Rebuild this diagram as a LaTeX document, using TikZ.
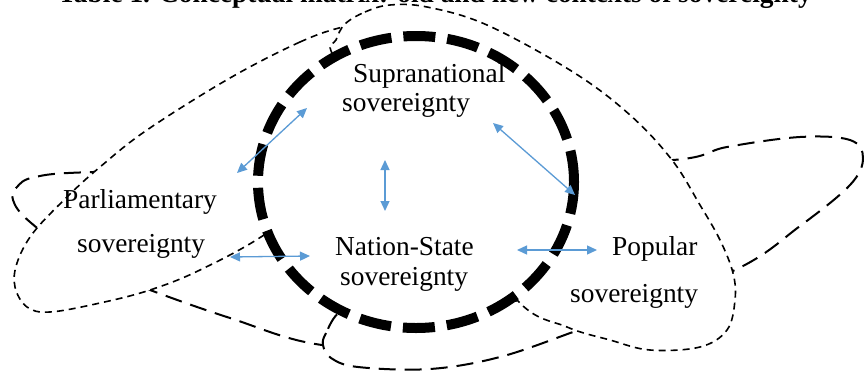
\documentclass[tikz,border=0pt]{standalone}
\usepackage{fontspec}
\setmainfont{Liberation Serif}
\usepackage{xcolor}
\usepackage{tikz}
\usetikzlibrary{arrows.meta}
\definecolor{arrowblue}{RGB}{91,155,213}

\begin{document}
\begin{tikzpicture}[x=1pt,y=-1pt,
  bigdash/.style={line width=10pt, dash pattern=on 32pt off 12pt, fill=white},
  finedash/.style={line width=1.6pt, dash pattern=on 7pt off 5pt, fill=white},
  longdash/.style={line width=2pt, dash pattern=on 17pt off 9pt, fill=white},
  link/.style={draw=arrowblue, line width=1.3pt, {Triangle[length=10pt,width=9pt]}-{Triangle[length=10pt,width=9pt]}},
  word/.style={font=\fontsize{27.4}{32}\selectfont, inner sep=0pt, anchor=base west}]
\useasboundingbox (0,0) rectangle (864,370);
\clip (0,0) rectangle (864,370);
% back shapes, each one hides part of the one before
\draw[longdash] plot[smooth cycle, tension=0.6] coordinates {(13,200) (30,222) (90,266) (150,290) (230,318) (322,345) (450,348) (600,322) (735,270) (800,226) (850,185) (863,158) (850,140) (800,137) (727,147) (673,160) (500,165) (300,168) (93,172) (35,177) (17,187)};
\draw[longdash] plot[smooth cycle, tension=0.6] coordinates {(340,312) (326,333) (323,345) (331,358) (358,367) (430,369) (500,357) (573,332) (610,318) (560,300) (450,305) (370,305)};
\draw[finedash] plot[smooth cycle, tension=0.6] coordinates {(343,27) (300,42) (230,78) (147,130) (100,167) (67,197) (33,233) (17,263) (15,287) (27,307) (50,312) (100,303) (150,290) (200,270) (267,233) (340,175) (395,95) (400,40) (375,24)};
\draw[finedash] plot[smooth cycle, tension=0.6] coordinates {(345,24) (365,12) (390,5) (427,7) (487,25) (573,72) (630,115) (672,160) (700,205) (720,240) (733,273) (735,300) (727,330) (700,347) (650,350) (610,340) (567,327) (517,300) (450,200) (380,120) (333,55) (336,40)};
% the state
\draw[bigdash] (416,182) ellipse [x radius=158, y radius=146];
% labels
\node[word] (supra) at (353,82) {Supranational};
\node[word] (supra2) at (342,111) {sovereignty};
\node[word] (parl) at (63,208) {Parliamentary};
\node[word] (parl2) at (77,252) {sovereignty};
\node[word] (nation) at (335,255) {Nation-State};
\node[word] (nation2) at (340,285) {sovereignty};
\node[word] (popular) at (612,255) {Popular};
\node[word] (popular2) at (570,302) {sovereignty};
\node[word, font=\bfseries\fontsize{27.4}{32}\selectfont] (title) at (58,2) {Table 1. Conceptual matrix: old and new contexts of sovereignty};
% links
\coordinate (ps1) at (237,173);
\coordinate (ps2) at (307,108);
\coordinate (sp1) at (493,123);
\coordinate (sp2) at (575,195);
\coordinate (sn1) at (385,160);
\coordinate (sn2) at (385,211);
\coordinate (pn1) at (230,257);
\coordinate (pn2) at (310,256);
\coordinate (np1) at (517,250);
\coordinate (np2) at (597,250);
\draw[link] (ps1) -- (ps2);
\draw[link] (sp1) -- (sp2);
\draw[link] (sn1) -- (sn2);
\draw[link] (pn1) -- (pn2);
\draw[link] (np1) -- (np2);
\end{tikzpicture}
\end{document}
